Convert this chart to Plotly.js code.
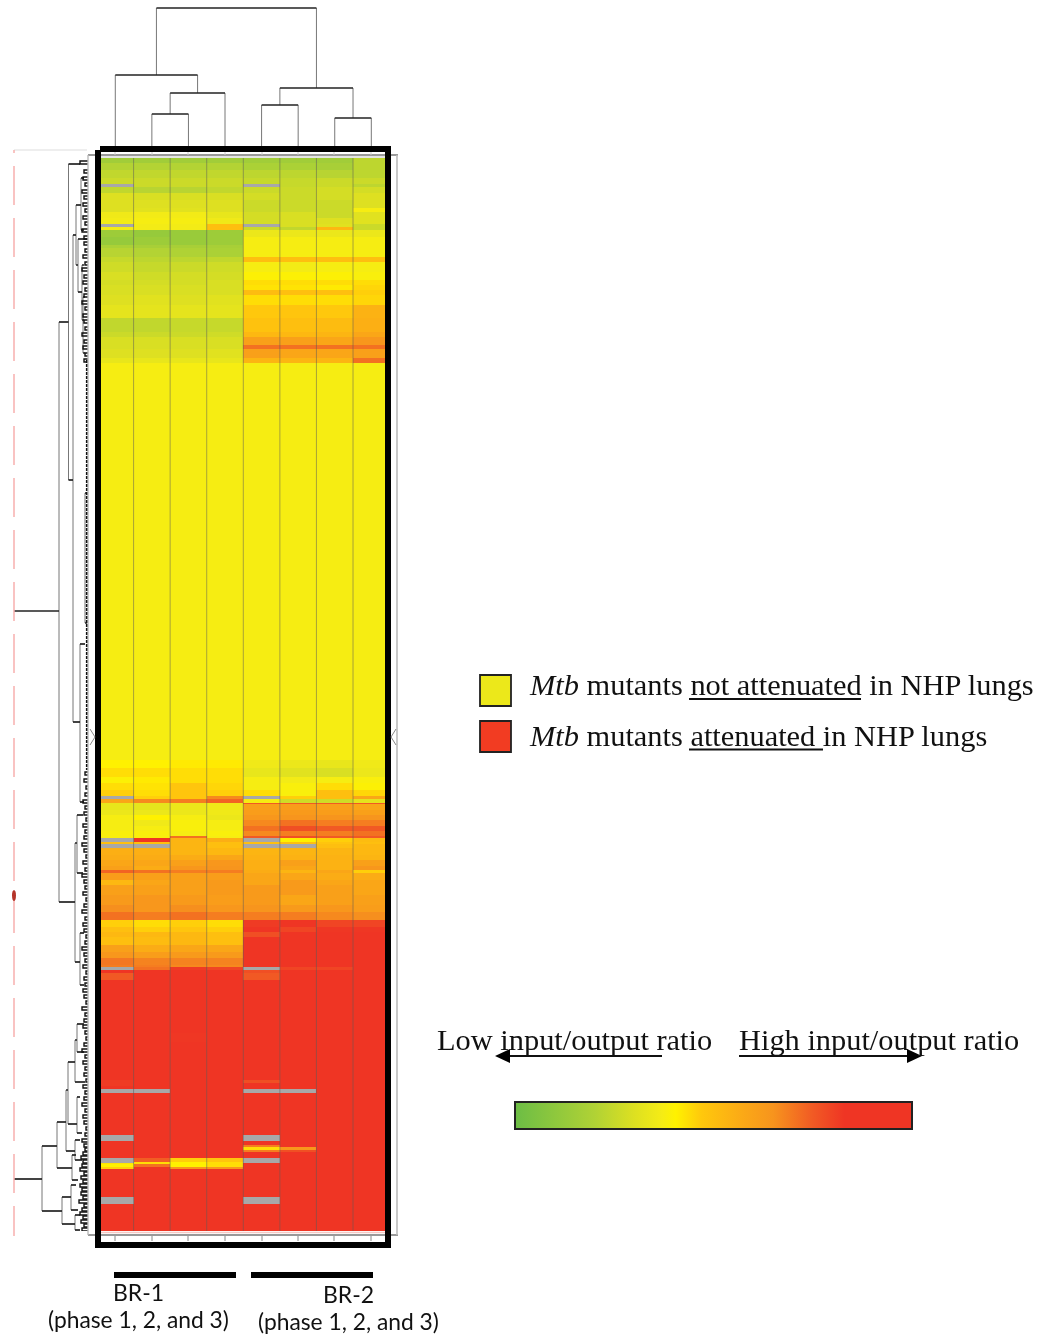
<!DOCTYPE html>
<html><head><meta charset="utf-8">
<script src="https://cdn.plot.ly/plotly-3.0.1.min.js"></script>
<style>html,body{margin:0;padding:0;background:#fff}#plot{width:1045px;height:1341px;filter:blur(0.7px)}</style>
</head><body><div id="plot"></div>
<script>
// ---------- data ----------
var columns = ['1','2','3','4','5','6','7','8'];
var firstRow = 158;
var lastRow = 1231;
// lower limit of each band of rows
var bandEnd = [163,170,178,184,187,193,200,208,212,218,224,227,230,237,245,248,257,262,272,280,285,290,295,305,318,332,337,345,349,358,363,
 760,768,777,783,790,796,799,803,804,810,815,820,826,831,836,838,842,844,848,855,860,866,870,873,880,885,895,905,912,920,927,932,937,945,952,958,965,967,970,973,980,
 1033,1037,1042,1080,1083,1086,1089,1093,1135,1141,1145,1147,1150,1152,1158,1162,1163,1164,1167,1169,1197,1204,1231];
// expression per band: 8 columns, null = no data (grey)
var bandValues = [
[.09,.09,.09,.09,.09,.09,.09,.16],[.14,.14,.14,.14,.12,.12,.11,.16],[.17,.17,.17,.17,.16,.16,.15,.16],[.19,.19,.19,.19,.18,.18,.19,.19],
[null,.19,.19,.19,null,.18,.19,.16],[.17,.15,.15,.17,.19,.19,.21,.21],[.23,.22,.22,.22,.21,.19,.21,.23],[.23,.23,.23,.23,.19,.19,.19,.23],
[.23,.24,.24,.23,.19,.19,.19,.3],[.28,.29,.29,.26,.21,.22,.19,.24],[.29,.3,.3,.28,.21,.22,.23,.24],[null,.29,.29,.42,null,.22,.24,.19],
[.29,.29,.29,.42,.19,.17,.44,.19],[.08,.06,.07,.08,.27,.27,.27,.27],[.06,.08,.07,.08,.3,.3,.3,.3],[.12,.11,.11,.11,.3,.3,.3,.3],
[.15,.14,.13,.12,.3,.3,.3,.3],[.18,.16,.16,.17,.42,.42,.42,.42],[.2,.18,.19,.2,.3,.29,.3,.3],[.22,.2,.21,.21,.32,.32,.32,.31],
[.21,.21,.21,.22,.36,.36,.36,.36],[.22,.22,.22,.22,.35,.35,.34,.37],[.22,.22,.22,.22,.43,.42,.42,.38],[.23,.24,.23,.24,.36,.36,.36,.37],
[.25,.25,.25,.25,.39,.4,.39,.46],[.17,.17,.18,.18,.41,.42,.43,.47],[.19,.19,.19,.2,.44,.44,.45,.5],[.22,.22,.22,.22,.52,.52,.5,.55],
[.22,.22,.22,.22,.62,.62,.62,.62],[.23,.23,.23,.24,.52,.5,.5,.52],[.26,.26,.26,.26,.45,.45,.45,.62],
[.3,.3,.3,.3,.3,.3,.3,.3],[.33,.33,.34,.34,.28,.27,.26,.28],[.36,.36,.36,.36,.26,.24,.22,.27],[.32,.34,.36,.36,.3,.29,.3,.31],
[.36,.35,.4,.37,.3,.31,.36,.32],[.38,.36,.4,.38,.36,.31,.42,.37],[null,.38,.4,.58,null,.38,.42,.5],[.5,.58,.6,.64,.3,.2,.2,.25],
[.26,.25,.27,.28,.66,.66,.66,.66],[.26,.25,.27,.28,.52,.53,.52,.5],[.27,.27,.27,.28,.53,.54,.53,.52],[.3,.33,.3,.27,.55,.56,.56,.56],
[.3,.28,.31,.3,.58,.62,.6,.6],[.3,.3,.31,.3,.62,.68,.66,.66],[.31,.31,.3,.31,.58,.6,.6,.62],[.31,.31,.62,.3,.66,.68,.66,.66],
[null,.75,.45,.47,null,.33,.38,.43],[.42,.42,.45,.42,.42,.42,.4,.42],[null,null,.45,.42,null,null,.42,.44],[.47,.47,.45,.44,.45,.45,.45,.44],
[.48,.48,.48,.5,.46,.46,.46,.45],[.5,.5,.52,.55,.47,.52,.46,.52],[.52,.48,.55,.56,.47,.5,.46,.55],[.64,.62,.6,.6,.48,.45,.5,.38],
[.53,.52,.52,.53,.5,.5,.48,.48],[.44,.5,.52,.54,.5,.54,.5,.5],[.52,.52,.52,.54,.54,.54,.52,.5],[.54,.55,.54,.53,.54,.5,.52,.52],
[.57,.55,.57,.55,.56,.54,.55,.53],[.62,.6,.62,.6,.6,.6,.58,.57],[.38,.36,.38,.36,.72,.74,.7,.7],[.42,.38,.4,.38,.76,.7,.73,.73],
[.44,.44,.44,.42,.68,.74,.74,.74],[.42,.43,.44,.42,.76,.8,.8,.8],[.52,.48,.5,.5,.8,.8,.8,.8],[.55,.53,.54,.54,.8,.8,.8,.8],
[.61,.59,.59,.59,.74,.8,.8,.8],[.6,.6,.58,.58,.8,.8,.8,.8],[null,.62,.72,.7,null,.7,.7,.74],[.76,.78,.8,.78,.68,.74,.74,.78],
[.66,.8,.8,.74,.66,.78,.76,.8],[.8,.8,.8,.8,.8,.8,.8,.8],[.74,.75,.73,.77,.78,.8,.8,.8],[.76,.76,.73,.75,.8,.8,.8,.8],
[.8,.8,.8,.8,.8,.8,.8,.8],[.72,.76,.78,.8,.68,.8,.8,.8],[.72,.74,.76,.78,.8,.8,.8,.8],[.8,.8,.8,.8,.8,.8,.8,.8],
[null,null,.8,.8,null,null,.8,.8],[.8,.8,.8,.8,.8,.8,.8,.8],[null,.8,.8,.8,null,.8,.8,.8],[.8,.8,.8,.8,.8,.8,.8,.8],
[.8,.8,.8,.8,.6,.8,.8,.8],[.8,.8,.8,.8,.36,.55,.8,.8],[.8,.8,.8,.8,.6,.68,.8,.8],[.8,.8,.8,.8,.8,.8,.8,.8],
[null,.65,.38,.4,null,.8,.8,.8],[null,.36,.33,.36,null,.8,.8,.8],[.35,.36,.33,.36,.8,.8,.8,.8],[.33,.62,.33,.36,.8,.8,.8,.8],
[.38,.8,.55,.55,.8,.8,.8,.8],[.8,.8,.8,.8,.8,.8,.8,.8],[null,.8,.8,.8,null,.8,.8,.8],[.8,.8,.8,.8,.8,.8,.8,.8]];
var colourStops = [[0,'#6cbd45'],[.2,'#b0d235'],[.3,'#dde021'],[.37,'#f5ec15'],[.405,'#fff200'],[.47,'#ffc80c'],[.57,'#fbaa16'],[.65,'#f7941d'],[.75,'#f15a24'],[.83,'#ef3524'],[1,'#ef3524']];

// column tree: each merge joins two nodes at a height
var colLeftPos   = [1.5, 2,   .5,  4.5, 6.5, 5,  1.625];
var colLeftBase  = [0,   32,  0,   0,   0,   41, 71];
var colRightPos  = [2.5, 3.5, 2.75,5.5, 7.5, 7,  6];
var colRightBase = [0,   0,   53,  0,   0,   28, 58];
var colMergeH    = [32,  53,  71,  41,  28,  58, 138];

// row tree, main branches
var rootRow = [611,1179], rootEnd = [59,42];
var branchDist = [59,68.5,73,76,81,78,82,83,80,85,75,77,80,42,57,66,68,75,77,77,75,72,62,71,75];
var branchTop  = [322,164,235,205,178,239,265,297,644,493,843,815,933,1146,1122,1090,1062,1040,1024,1097,1140,1155,1197,1185,1215];
var branchBot  = [902,480,722,265,230,292,320,353,802,623,962,873,985,1211,1168,1151,1124,1082,1052,1133,1160,1180,1224,1210,1230];
var branchTopTo= [68.5,80,76,81,84,88,84,85,85,87,77,83,84,57,66,68,75,77,84,80,80,76,71,76,80];
var branchBotTo= [75,73,80,78,84,82,84,85,84,87,80,83,84,62,72,75,77,85,84,82,82,78,75,78,80];
// row tree, small twigs next to the heatmap
var twigRow = [161,170,177,183,190,196,203,209,216,222,229,236,242,249,255,262,268,275,281,288,294,301,307,314,320,327,333,340,346,353,359,
 772,779,786,793,800,806,812,818,824,830,836,843,849,855,861,868,874,880,886,892,898,904,910,917,923,929,935,941,947,953,959,965,971,977,983,989,995,1001,1007,1013,1019,1025,1031,1037,1043,1049,1055,1061,1067,1073,1079,1085,1091,1097,1103,1109,1115,1121,1127,1133,1139,1144,1148,1152,1156,1160,1164,1168,1172,1176,1180,1184,1188,1192,1196,1200,1204,1208,1212,1216,1220,1224,1228];
var twigDist = [80,84,83,85,82,84,83,85,83,85,82,84,84,85,83,85,82,84,83,85,84,82,85,83,84,85,82,84,83,85,84,
 85,84,86,85,83,85,84,86,83,85,84,82,84,86,83,85,82,84,85,83,86,84,82,85,83,84,86,85,82,84,85,83,86,84,85,83,84,86,82,85,84,83,85,86,84,82,85,83,85,84,86,83,85,84,82,85,83,84,86,85,82,84,85,83,81,83,82,80,84,81,83,80,82,81,83,79,84,82,80,83,81,84,82,80,83,81,84];
// ---------- build ----------
var W=1045,H=1341;
function px(x){return x/W} function py(y){return 1-y/H}
var edges=[firstRow].concat(bandEnd), colEdges=[0,1,2,3,4,5,6,7,8];
var missing=bandValues.map(function(r){return r.map(function(v){return v===null?1:null})});
var traces=[];
traces.push({type:'heatmap',x:colEdges,y:edges,z:missing,zmin:0,zmax:1,colorscale:[[0,'#a8a8a8'],[1,'#a8a8a8']],showscale:false,hoverinfo:'skip'});
traces.push({type:'heatmap',x:colEdges,y:edges,z:bandValues,zmin:-.057,zmax:.895,colorscale:colourStops,zsmooth:false,hoverinfo:'skip',
  colorbar:{orientation:'h',x:px(515),xanchor:'left',y:py(1102),yanchor:'top',len:397,lenmode:'pixels',thickness:27,thicknessmode:'pixels',xpad:0,ypad:0,
    outlinecolor:'#222',outlinewidth:2,ticks:'',showticklabels:false,tickvals:[]}});
// column dendrogram
var hx=[],hy=[],vx=[],vy=[];
colMergeH.forEach(function(h,i){
  hx.push(colLeftPos[i],colRightPos[i],null);hy.push(h,h,null);
  vx.push(colLeftPos[i],colLeftPos[i],null,colRightPos[i],colRightPos[i],null);
  vy.push(colLeftBase[i],h,null,colRightBase[i],h,null);
});
traces.push({type:'scatter',mode:'lines',x:vx,y:vy,xaxis:'x',yaxis:'y2',line:{color:'#777',width:1},hoverinfo:'skip',showlegend:false,cliponaxis:false});
traces.push({type:'scatter',mode:'lines',x:hx,y:hy,xaxis:'x',yaxis:'y2',line:{color:'#222',width:1.7},hoverinfo:'skip',showlegend:false,cliponaxis:false});
// row dendrogram
var rhx=[],rhy=[],rvx=[],rvy=[];
rootRow.forEach(function(r,i){rhx.push(14,rootEnd[i],null);rhy.push(r,r,null)});
branchDist.forEach(function(d,i){
  rvx.push(d,d,null);rvy.push(branchTop[i],branchBot[i],null);
  rhx.push(d,branchTopTo[i],null,d,branchBotTo[i],null);rhy.push(branchTop[i],branchTop[i],null,branchBot[i],branchBot[i],null);
});
var tx=[],ty=[];
twigRow.forEach(function(r,i){var d=twigDist[i];tx.push(88,d,d,88,null);ty.push(r,r,r+3,r+3,null)});
traces.push({type:'scatter',mode:'lines',x:rvx,y:rvy,xaxis:'x2',yaxis:'y',line:{color:'#777',width:1},hoverinfo:'skip',showlegend:false});
traces.push({type:'scatter',mode:'lines',x:rhx,y:rhy,xaxis:'x2',yaxis:'y',line:{color:'#222',width:1.7},hoverinfo:'skip',showlegend:false});
traces.push({type:'scatter',mode:'lines',x:tx,y:ty,xaxis:'x2',yaxis:'y',line:{color:'#111',width:1.4},hoverinfo:'skip',showlegend:false});
traces.push({type:'scatter',mode:'lines',x:[87,87],y:[360,770],xaxis:'x2',yaxis:'y',line:{color:'#111',width:2.2,dash:'3px,1px'},hoverinfo:'skip',showlegend:false});
// furniture
function seg(x0,y0,x1,y1,color,w,dash){return {type:'line',xref:'paper',yref:'paper',x0:px(x0),y0:py(y0),x1:px(x1),y1:py(y1),line:{color:color,width:w,dash:dash||'solid'},layer:'above'}}
function tri(p,fill){return {type:'path',xref:'paper',yref:'paper',path:p.map(function(q,i){return (i?'L':'M')+px(q[0])+','+py(q[1])}).join(' ')+' Z',fillcolor:fill,line:{width:0},layer:'above'}}
function box(x0,y0,x1,y1,fill,lc,lw){return {type:'rect',xref:'paper',yref:'paper',x0:px(x0),y0:py(y0),x1:px(x1),y1:py(y1),fillcolor:fill,line:{color:lc||fill,width:lw||0},layer:'above'}}
var shapes=[];
[1,2,3,4,5,6,7].forEach(function(c){shapes.push({type:'line',xref:'x',yref:'paper',x0:c,x1:c,y0:py(158),y1:py(1231),line:{color:'rgba(90,90,90,.5)',width:1},layer:'above'})});
// inner plot box
shapes.push(seg(88,155,398,155,'#777',1.5),seg(88,1235,398,1235,'#777',1.5),seg(397,155,397,1235,'#bbb',1.6),seg(88,155,88,1235,'#bbb',1.4));
shapes.push(seg(101,157,385,157,'#ddd',1.5),seg(101,1232.5,385,1232.5,'#f6c9c5',1.5));
[115,152,188,225,262,298,334,371].forEach(function(x){shapes.push(seg(x,1236,x,1241,'#888',1),seg(x,152,x,155,'#ccc',1))});
// thick frame
shapes.push(seg(100,149,391,149,'#000',6),seg(95,1245,391,1245,'#000',6),seg(98,150,98,1248,'#000',6),seg(388,146,388,1248,'#000',6));
// pink cut line and marker
shapes.push(seg(14,150,87,150,'#ddd',1),seg(14,166,14,1236,'#f7b0ae',1.5,'39px,13px'),seg(14,150,14,153,'#f7b0ae',1.5));
shapes.push({type:'circle',xref:'paper',yref:'paper',x0:px(12),x1:px(16),y0:py(890),y1:py(901),fillcolor:'#b5352a',line:{width:0},layer:'above'});
// chevrons
shapes.push({type:'path',xref:'paper',yref:'paper',path:'M'+px(90)+','+py(729)+' L'+px(95)+','+py(737)+' L'+px(90)+','+py(745),line:{color:'#888',width:1},layer:'above'});
shapes.push({type:'path',xref:'paper',yref:'paper',path:'M'+px(396)+','+py(729)+' L'+px(391)+','+py(737)+' L'+px(396)+','+py(745),line:{color:'#888',width:1},layer:'above'});
// BR bars
shapes.push(box(114,1272,236,1278,'#000'),box(251,1272,373,1278,'#000'));
// legend swatches and underlines
shapes.push(box(480,675,511,706,'#ece81a','#222',1.8),box(480,721,511,752,'#f23c22','#222',1.8));
shapes.push(seg(689,699,861,699,'#111',2),seg(689,749.5,823,749.5,'#111',2));
// ratio arrows
shapes.push(seg(505,1056,662,1056,'#111',2),tri([[495,1056],[510,1049],[510,1063]],'#000'));
shapes.push(seg(739,1056,912,1056,'#111',2),tri([[922,1056],[907,1049],[907,1063]],'#000'));
var serif='"Liberation Serif",serif', sans='Lato,"Open Sans",sans-serif';
function note(text,x,y,size,fam){return {text:text,xref:'paper',yref:'paper',x:px(x),y:py(y),xanchor:'left',yanchor:'middle',showarrow:false,align:'left',borderpad:0,font:{family:fam,size:size,color:'#111'}}}
var annotations=[
 note('<i>Mtb</i> mutants not attenuated in NHP lungs',528,685,30.4,serif),
 note('<i>Mtb</i> mutants attenuated in NHP lungs',528,736,30.4,serif),
 note('Low input/output ratio',436,1040,30.4,serif),
 note('High input/output ratio',738,1040,30.4,serif),
 note('BR-1',112,1292,23,sans),
 note('BR-2',322,1294,23,sans),
 note('(phase 1, 2, and 3)',47,1319,22.8,sans),
 note('(phase 1, 2, and 3)',257,1321,22.8,sans)
];
var hiddenAxis={showgrid:false,zeroline:false,showticklabels:false,ticks:'',showline:false,fixedrange:true};
var layout={width:W,height:H,margin:{l:0,r:0,t:0,b:0,pad:0,autoexpand:false},paper_bgcolor:'#fff',plot_bgcolor:'rgba(0,0,0,0)',showlegend:false,
 xaxis:Object.assign({domain:[px(97),px(389.6)],range:[0,8],anchor:'y'},hiddenAxis),
 yaxis:Object.assign({domain:[py(1231),py(158)],range:[lastRow,firstRow],anchor:'x'},hiddenAxis),
 xaxis2:Object.assign({domain:[px(14),px(88)],range:[14,88],anchor:'y'},hiddenAxis),
 yaxis2:Object.assign({domain:[py(146),py(0)],range:[0,146],anchor:'x'},hiddenAxis),
 shapes:shapes,annotations:annotations};
Plotly.newPlot('plot',traces,layout,{displayModeBar:false,staticPlot:true});
</script></body></html>
